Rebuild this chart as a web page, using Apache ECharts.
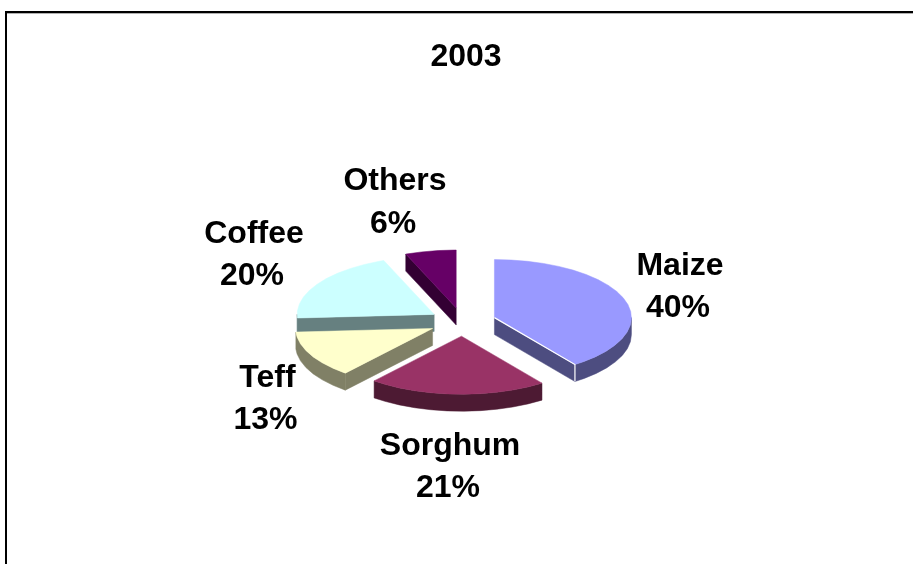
<!DOCTYPE html>
<html>
<head>
<meta charset="utf-8">
<style>html,body{margin:0;padding:0;background:#fff}#c{width:913px;height:564px}</style>
<script src="https://cdn.jsdelivr.net/npm/echarts@6/dist/echarts.min.js"></script>
</head>
<body>
<div id="c"></div>
<script>
const chartTitle = '2003';
const categories = ['Maize', 'Sorghum', 'Teff', 'Coffee', 'Others'];
const shares = [40, 21, 13, 20, 6];
const topColors = ['#9999FF', '#993366', '#FFFFCC', '#CCFFFF', '#660066'];
const sideColors = ['#4D4D80', '#4D1A33', '#808066', '#668080', '#330033'];
const paintOrder = ['Others', 'Coffee', 'Maize', 'Teff', 'Sorghum'];

// Layout of the tilted pie
const CX = 462.5, CY = 322, RX = 137, RY = 58, DEPTH = 17, EXPLODE = 0.245, STEP = 7;
const FONT = 'Liberation Sans, Arial, sans-serif';
const FONT_SIZE = 32, LINE_GAP = 42.5, PERCENT_SHIFT = -2;
const labelCentres = {
  Maize: [680, 287], Sorghum: [450, 467], Teff: [267.5, 399], Coffee: [254, 255], Others: [395, 202.5]
};

const total = shares.reduce((a, b) => a + b, 0);
let acc = 0;
const slices = categories.map((name, i) => {
  const start = acc / total * 360;
  acc += shares[i];
  return { name, value: shares[i], start, end: acc / total * 360, index: i };
});
const ordered = paintOrder.map(n => slices.find(s => s.name === n));

const rad = d => d * Math.PI / 180;
const onRim = (d, ox, oy) => [ox + RX * Math.sin(rad(d)), oy - RY * Math.cos(rad(d))];
function arc(a, b, ox, oy) {
  const pts = [];
  for (let d = a; d < b; d += STEP) pts.push(onRim(d, ox, oy));
  pts.push(onRim(b, ox, oy));
  return pts;
}
const poly = (points, fill, stroke, lw) => ({
  type: 'polygon',
  shape: { points },
  style: { fill, stroke: stroke || fill, lineWidth: lw === undefined ? 0.5 : lw }
});
const drop = p => [p[0], p[1] + DEPTH];

function renderSlice(params) {
  const s = ordered[params.dataIndex];
  const mid = (s.start + s.end) / 2;
  const ox = CX + EXPLODE * RX * Math.sin(rad(mid));
  const oy = CY - EXPLODE * RY * Math.cos(rad(mid));
  const top = topColors[s.index], side = sideColors[s.index];
  const apex = [ox, oy];
  const kids = [];

  // outer rim wall, only where it faces the viewer
  const a = Math.max(s.start, 90), b = Math.min(s.end, 270);
  if (a < b) {
    const rim = arc(a, b, ox, oy);
    kids.push(poly(rim.concat(rim.slice().reverse().map(drop)), side));
  }
  // radial cut walls
  const wall = d => {
    const p = onRim(d, ox, oy);
    kids.push(poly([apex, p, drop(p), drop(apex)], side));
  };
  if (s.end > 0 && s.end < 180) wall(s.end);
  if (s.start > 180 && s.start < 360) wall(s.start);
  // top face
  kids.push(poly([apex].concat(arc(s.start, s.end, ox, oy)), top));
  // white highlight on the front corner of the largest slice
  if (s.end < 180) {
    const p = onRim(s.end, ox, oy);
    kids.push({ type: 'polyline', shape: { points: [apex, p, drop(p)] },
      style: { fill: 'none', stroke: '#fff', lineWidth: 1.2 } });
  }
  return { type: 'group', children: kids };
}

const labelLine = (text, x, y) => ({
  type: 'text', x, y,
  style: {
    text,
    font: 'bold ' + FONT_SIZE + 'px ' + FONT,
    align: 'center',
    verticalAlign: 'middle',
    textAlign: 'center',
    textVerticalAlign: 'middle',
    fill: '#000'
  }
});
const labelText = [];
ordered.forEach(s => {
  const [x, y] = labelCentres[s.name];
  labelText.push(labelLine(s.name, x, y - LINE_GAP / 2));
  labelText.push(labelLine(Math.round(s.value / total * 100) + '%', x + PERCENT_SHIFT, y + LINE_GAP / 2));
});

const chart = echarts.init(document.getElementById('c'), null, { renderer: 'canvas' });
chart.setOption({
  backgroundColor: '#fff',
  animation: false,
  title: {
    text: chartTitle,
    left: 461, top: 52,
    textAlign: 'center',
    textVerticalAlign: 'middle',
    textStyle: { fontFamily: FONT, fontWeight: 'bold', fontSize: FONT_SIZE, color: '#000' }
  },
  series: [{
    type: 'custom',
    coordinateSystem: 'none',
    data: ordered.map(s => ({ name: s.name, value: s.value })),
    renderItem: renderSlice,
    silent: true
  }],
  graphic: {
    elements: [
      { type: 'line', shape: { x1: 5, y1: 12, x2: 913, y2: 12 }, style: { stroke: '#000', lineWidth: 2 } },
      { type: 'line', shape: { x1: 6, y1: 11, x2: 6, y2: 564 }, style: { stroke: '#000', lineWidth: 2 } },
      { type: 'line', shape: { x1: 7, y1: 13.5, x2: 913, y2: 13.5 }, style: { stroke: '#b0b0b0', lineWidth: 1 } }
    ].concat(labelText)
  }
});
</script>
</body>
</html>
